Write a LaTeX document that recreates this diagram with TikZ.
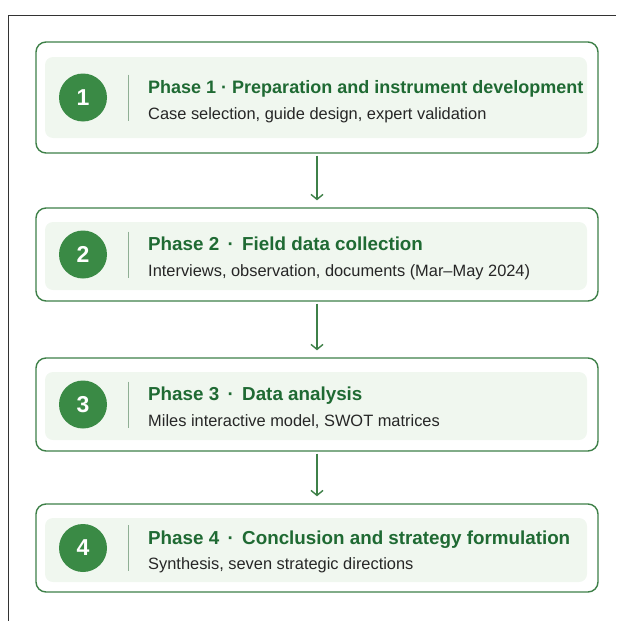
\documentclass[tikz,border=0pt]{standalone}
\usepackage{fontspec}
\setmainfont{Liberation Sans}
\usetikzlibrary{arrows.meta, positioning}
\definecolor{verdeborde}{HTML}{3E8048}
\definecolor{verdepanel}{HTML}{F0F7EF}
\definecolor{verdenum}{HTML}{3A8A45}
\definecolor{verdetit}{HTML}{1F6A33}
\definecolor{gristexto}{HTML}{262626}
\definecolor{divgris}{HTML}{8FAF94}

\begin{document}
\begin{tikzpicture}[x=1pt,y=-1pt,
  caja/.style={draw=verdeborde, line width=1.4pt, rounded corners=10pt, minimum width=562pt, inner sep=0pt},
  panel/.style={fill=verdepanel, rounded corners=8pt, minimum width=542pt, inner sep=0pt},
  num/.style={circle, fill=verdenum, minimum size=48pt, inner sep=0pt, text=white, font=\fontsize{23}{23}\selectfont\bfseries},
  titulo/.style={anchor=base west, inner sep=0pt, text=verdetit, font=\fontsize{18}{18}\selectfont\bfseries},
  titulog/.style={titulo, font=\fontsize{18.8}{18.8}\selectfont\bfseries},
  sub/.style={anchor=base west, inner sep=0pt, text=gristexto, font=\fontsize{16.4}{16.4}\selectfont},
  divisor/.style={draw=divgris, line width=0.9pt},
  flecha/.style={draw=verdeborde, line width=1.4pt, -{Straight Barb[length=5pt,width=12pt]}, shorten <=2pt, shorten >=7pt}]
\useasboundingbox (0,0) rectangle (616,621);
% marco recortado (arriba e izquierda)
\draw[line width=0.8pt, black!80] (8,621) -- (8,15) -- (616,15);

% Fase 1
\node[caja, minimum height=111pt] (f1) at (317,97.5) {};
\node[panel, minimum height=81pt] (p1) at (316,97.5) {};
\node[num] (n1) at (83,97.5) {1};
\draw[divisor] (n1.east) ++(21,-23) -- ++(0,46);
\node[titulo] (t1) at (148,93) {Phase 1 · Preparation and instrument development};
\node[sub] (s1) at (148,119) {Case selection, guide design, expert validation};

% Fase 2
\node[caja, minimum height=93pt] (f2) at (317,254.5) {};
\node[panel, minimum height=68pt] (p2) at (316,256) {};
\node[num] (n2) at (83,254.5) {2};
\draw[divisor] (n2.east) ++(21,-23) -- ++(0,46);
\node[titulog] (t2) at (148,250) {Phase 2 \,·\, Field data collection};
\node[sub] (s2) at (148,276) {Interviews, observation, documents (Mar--May 2024)};

% Fase 3
\node[caja, minimum height=93pt] (f3) at (317,404.5) {};
\node[panel, minimum height=68pt] (p3) at (316,406) {};
\node[num] (n3) at (83,404.5) {3};
\draw[divisor] (n3.east) ++(21,-23) -- ++(0,46);
\node[titulog] (t3) at (148,400) {Phase 3 \,·\, Data analysis};
\node[sub] (s3) at (148,426) {Miles interactive model, SWOT matrices};

% Fase 4
\node[caja, minimum height=88pt] (f4) at (317,548) {};
\node[panel, minimum height=64pt] (p4) at (316,550) {};
\node[num] (n4) at (83,548) {4};
\draw[divisor] (n4.east) ++(21,-23) -- ++(0,46);
\node[titulog] (t4) at (148,544) {Phase 4 \,·\, Conclusion and strategy formulation};
\node[sub] (s4) at (148,569.5) {Synthesis, seven strategic directions};

% flechas entre fases
\draw[flecha] (f1.south) -- (f2.north);
\draw[flecha] (f2.south) -- (f3.north);
\draw[flecha] (f3.south) -- (f4.north);
\end{tikzpicture}
\end{document}
